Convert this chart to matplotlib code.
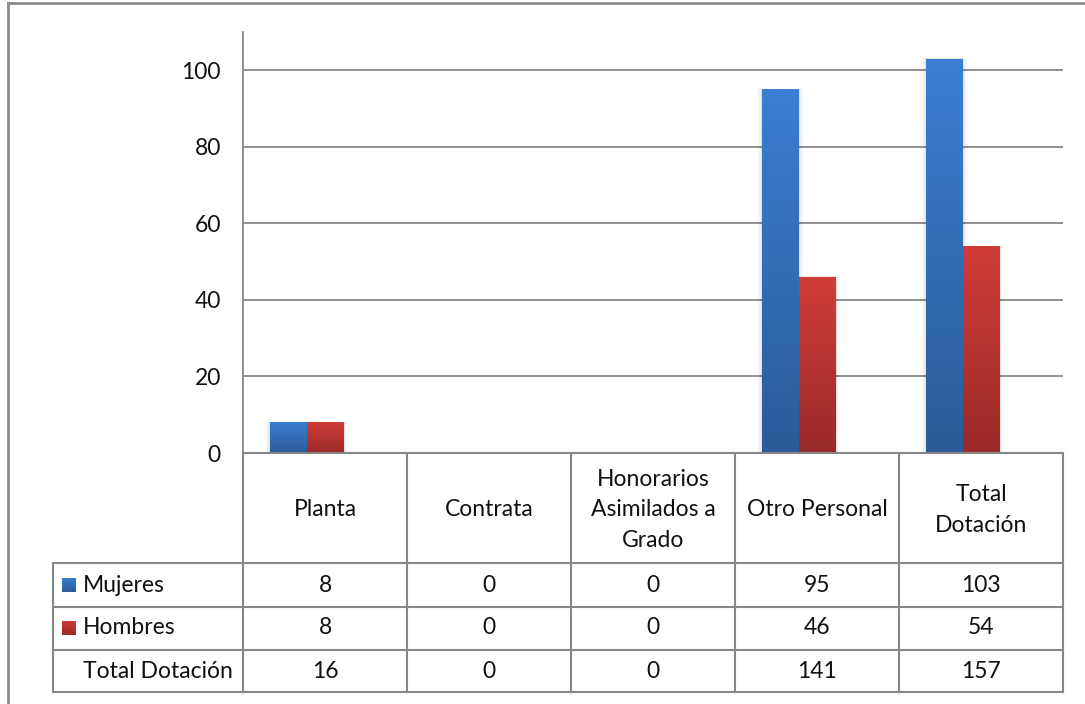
import matplotlib
matplotlib.use("Agg")
import matplotlib.pyplot as plt
import numpy as np
from matplotlib.transforms import blended_transform_factory
from matplotlib.colors import LinearSegmentedColormap

categories = ["Planta", "Contrata", "Honorarios\nAsimilados a\nGrado", "Otro Personal", "Total\nDotación"]
series_names = ["Mujeres", "Hombres"]
mujeres = [8, 0, 0, 95, 103]
hombres = [8, 0, 0, 46, 54]
totales = [16, 0, 0, 141, 157]
total_label = "Total Dotación"
yticks = [0, 20, 40, 60, 80, 100]

plt.rcParams['font.family'] = ['Lato', 'DejaVu Sans']

W, H = 1085, 704
fig = plt.figure(figsize=(W / 100, H / 100), dpi=100)
fig.patch.set_facecolor('white')

def fx(px):
    return px / W

def fy(py):
    return 1 - py / H

ax = fig.add_axes([fx(243), fy(453), fx(1063) - fx(243), fy(32) - fy(453)])
ax.set_facecolor('white')

grid_c = '#878787'
text_c = '#111111'
fs = 16.5

n = len(categories)
x = np.arange(n)
bw = 0.222

blue_cmap = LinearSegmentedColormap.from_list('b', ['#2B5B98', '#3A7FD1'])
red_cmap = LinearSegmentedColormap.from_list('r', ['#9A2A29', '#D03D39'])

ax.set_xlim(-0.5, n - 0.5)
ax.set_ylim(0, 110)
for yv in yticks[1:]:
    ax.axhline(yv, color=grid_c, lw=1.3, zorder=1)

grad = np.linspace(0, 1, 256).reshape(-1, 1)
for vals, off, cmap in [(mujeres, -bw, blue_cmap), (hombres, 0.0, red_cmap)]:
    bars = ax.bar(x + off, vals, width=bw, color='none', edgecolor='none', zorder=3)
    for b in bars:
        h = b.get_height()
        if h <= 0:
            continue
        x0 = b.get_x()
        for k, a in [(0.01, 0.06), (0.02, 0.04), (0.03, 0.02)]:
            ax.add_patch(plt.Rectangle((x0 - k, 0), b.get_width() + 2 * k, h + k * 10,
                                       color='#000000', alpha=a, lw=0, zorder=2))
        im = ax.imshow(grad, extent=(x0, x0 + b.get_width(), 0, h), origin='lower',
                       cmap=cmap, aspect='auto', zorder=3, vmin=0, vmax=1)
        im.set_clip_path(b)

ax.set_xlim(-0.5, n - 0.5)
ax.set_ylim(0, 110)

for s in ['top', 'right', 'bottom']:
    ax.spines[s].set_visible(False)
ax.spines['left'].set_color(grid_c)
ax.spines['left'].set_linewidth(1.3)
ax.set_xticks([])
ax.set_yticks(yticks)
ax.tick_params(axis='y', length=0, pad=16, labelsize=fs, labelcolor=text_c)

tb = blended_transform_factory(ax.transData, fig.transFigure)
tf = fig.transFigure
lw = 1.5
rows_y = [453, 563, 607, 650, 692]
xl, xr = -0.5, n - 0.5

fig.add_artist(plt.Line2D([xl, xr], [fy(453), fy(453)], transform=tb, color=grid_c, lw=lw))
for ry in rows_y[1:]:
    fig.add_artist(plt.Line2D([fx(53), fx(243)], [fy(ry), fy(ry)], transform=tf, color=grid_c, lw=lw))
    fig.add_artist(plt.Line2D([xl, xr], [fy(ry), fy(ry)], transform=tb, color=grid_c, lw=lw))
fig.add_artist(plt.Line2D([fx(53), fx(53)], [fy(563), fy(692)], transform=tf, color=grid_c, lw=lw))
for i in range(n + 1):
    xv = i - 0.5
    fig.add_artist(plt.Line2D([xv, xv], [fy(453), fy(692)], transform=tb, color=grid_c, lw=lw))

for i, c in enumerate(categories):
    fig.text(x[i], fy(510), c, transform=tb, ha='center', va='center', fontsize=fs,
             color=text_c, linespacing=1.55)

row_centers = [585, 628, 672]
for r, vals in enumerate([mujeres, hombres, totales]):
    for i, v in enumerate(vals):
        fig.text(x[i], fy(row_centers[r]), str(v), transform=tb, ha='center', va='center',
                 fontsize=fs, color=text_c)

labels = series_names + [total_label]
for r, lab in enumerate(labels):
    fig.text(fx(83), fy(row_centers[r]), lab, transform=tf, ha='left', va='center',
             fontsize=fs, color=text_c)

for r, cmap in enumerate([blue_cmap, red_cmap]):
    kax = fig.add_axes([fx(62), fy(row_centers[r] + 7), fx(14), fy(0) - fy(14)])
    kax.imshow(grad, cmap=cmap, aspect='auto', origin='lower', extent=(0, 1, 0, 1))
    kax.axis('off')

fig.add_artist(plt.Line2D([fx(8), fx(8)], [fy(3), fy(704)], transform=tf, color='#8a8a8a', lw=2))
fig.add_artist(plt.Line2D([fx(8), fx(1085)], [fy(3), fy(3)], transform=tf, color='#8a8a8a', lw=2))

fig.savefig('out.png', dpi=100, facecolor='white')
